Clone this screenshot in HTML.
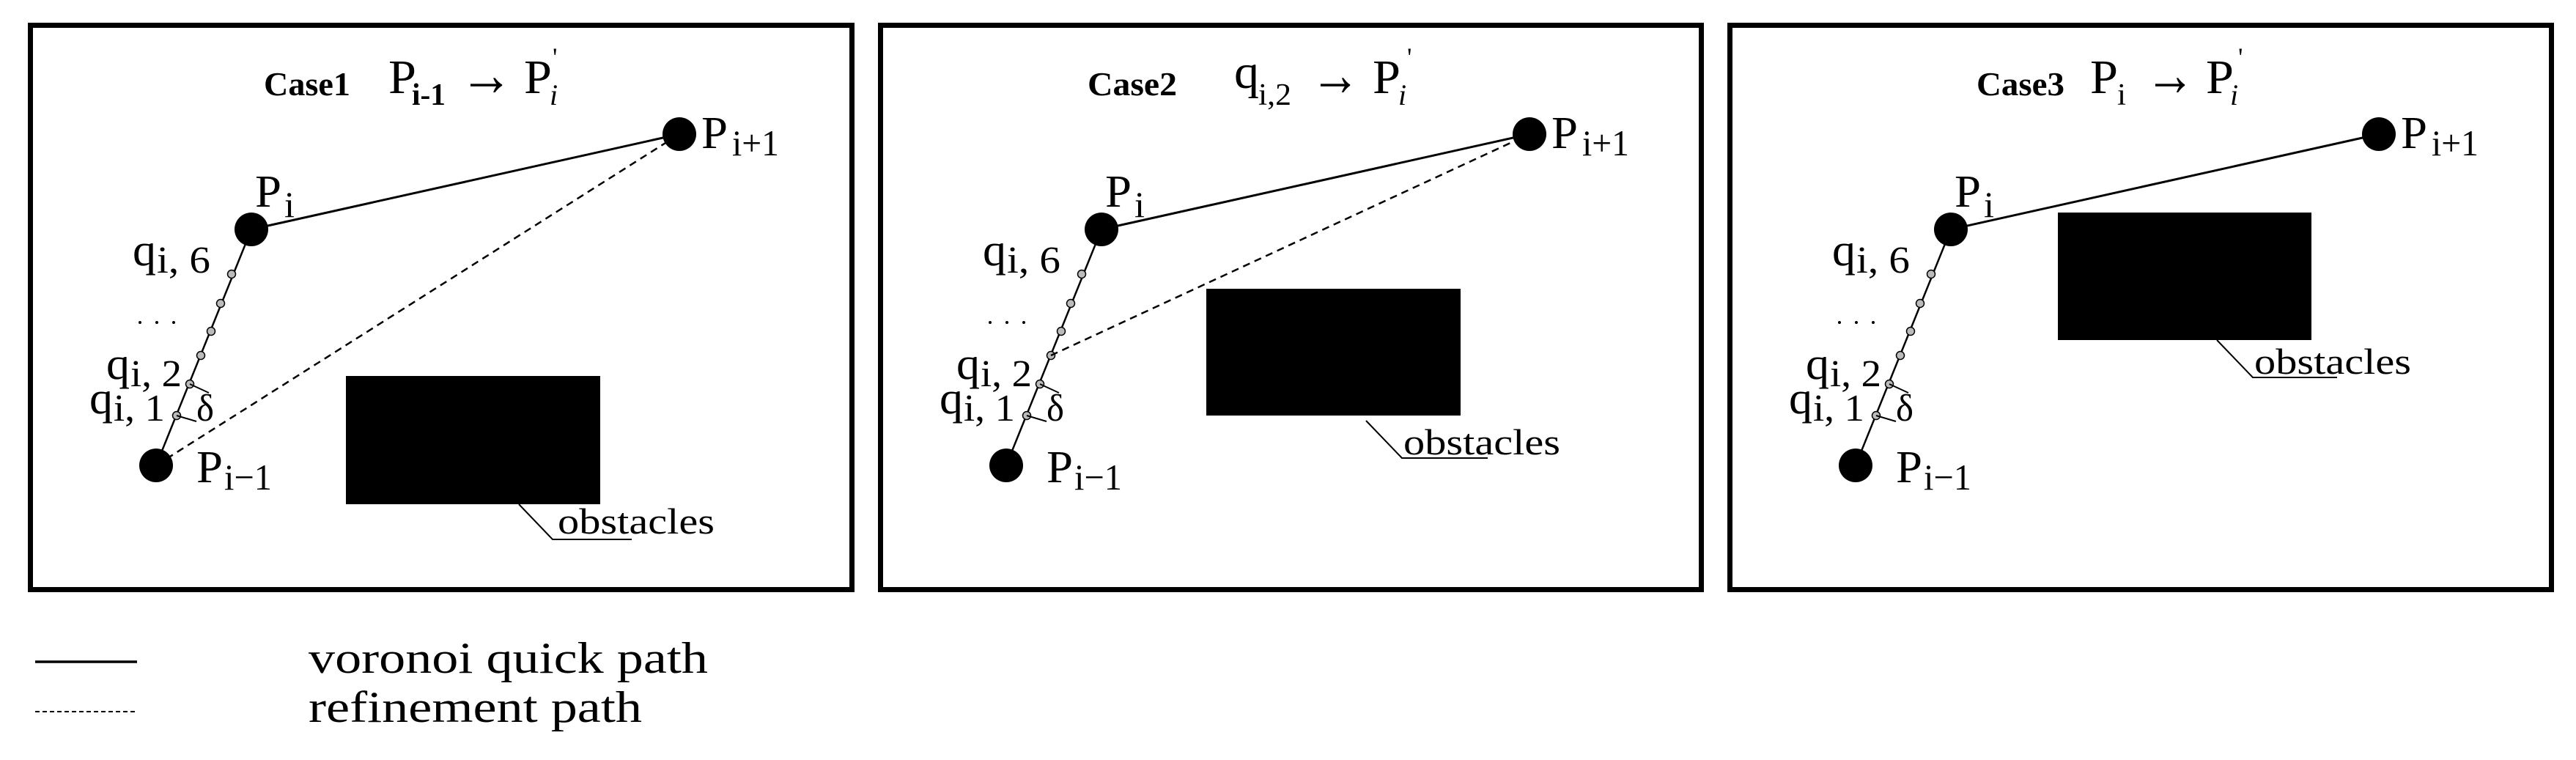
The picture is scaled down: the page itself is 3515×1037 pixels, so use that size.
<!DOCTYPE html>
<html><head><meta charset="utf-8"><style>
html,body{margin:0;padding:0;background:#fff;}
svg{display:block;}
text{font-family:"Liberation Serif",serif;fill:#000;}
</style></head><body>
<svg width="3515" height="1037" viewBox="0 0 3515 1037" xmlns="http://www.w3.org/2000/svg">
<defs>
<g id="common">
  <line x1="213" y1="635" x2="343" y2="313" stroke="#000" stroke-width="2.5"/>
  <line x1="343" y1="313" x2="927" y2="183" stroke="#000" stroke-width="3"/>
  <circle cx="343" cy="313" r="23" fill="#000"/>
  <circle cx="927" cy="183" r="23" fill="#000"/>
  <circle cx="213" cy="635" r="23" fill="#000"/>
  <g fill="#bbb" stroke="#000" stroke-width="1.5">
    <circle cx="316" cy="374" r="5.5"/><circle cx="301" cy="414" r="5.5"/>
    <circle cx="288" cy="452" r="5.5"/><circle cx="274" cy="485" r="5.5"/>
    <circle cx="259" cy="524" r="5.5"/><circle cx="241" cy="567" r="5.5"/>
  </g>
  <line x1="259" y1="524" x2="285" y2="536" stroke="#000" stroke-width="2"/>
  <line x1="241" y1="567" x2="268" y2="575" stroke="#000" stroke-width="2"/>
  <text x="348" y="282" font-size="62" textLength="36" lengthAdjust="spacingAndGlyphs">P</text>
  <text x="388" y="296" font-size="50" textLength="14" lengthAdjust="spacingAndGlyphs">i</text>
  <text x="957" y="202" font-size="62" textLength="36" lengthAdjust="spacingAndGlyphs">P</text>
  <text x="999" y="212" font-size="50" textLength="64" lengthAdjust="spacingAndGlyphs">i+1</text>
  <text x="268" y="658" font-size="62" textLength="36" lengthAdjust="spacingAndGlyphs">P</text>
  <text x="306" y="668" font-size="50" textLength="65" lengthAdjust="spacingAndGlyphs">i−1</text>
  <text x="181" y="362" font-size="62" textLength="32" lengthAdjust="spacingAndGlyphs">q</text>
  <text x="214" y="372" font-size="52" textLength="73" lengthAdjust="spacingAndGlyphs">i, 6</text>
  <circle cx="191" cy="440" r="2" fill="#000"/><circle cx="214" cy="440" r="2" fill="#000"/><circle cx="237" cy="440" r="2" fill="#000"/>
  <text x="145" y="517" font-size="62" textLength="32" lengthAdjust="spacingAndGlyphs">q</text>
  <text x="178" y="527" font-size="52" textLength="70" lengthAdjust="spacingAndGlyphs">i, 2</text>
  <text x="122" y="564" font-size="62" textLength="32" lengthAdjust="spacingAndGlyphs">q</text>
  <text x="155" y="574" font-size="52" textLength="70" lengthAdjust="spacingAndGlyphs">i, 1</text>
  <text x="268" y="574" font-size="52" textLength="24" lengthAdjust="spacingAndGlyphs">δ</text>
</g>
</defs>

<!-- Panel 1 -->
<rect x="41.5" y="34.5" width="1121" height="770" fill="none" stroke="#000" stroke-width="7"/>
<use href="#common"/>
<line x1="213" y1="635" x2="927" y2="183" stroke="#000" stroke-width="2.5" stroke-dasharray="10,7"/>
<rect x="472" y="513" width="347" height="175" fill="#000"/>
<polyline points="708,688 754,736 862,736" fill="none" stroke="#000" stroke-width="2"/>
<text x="761" y="728" font-size="50" textLength="214" lengthAdjust="spacingAndGlyphs">obstacles</text>
<text x="360" y="130" font-size="46" font-weight="bold" textLength="118" lengthAdjust="spacingAndGlyphs">Case1</text>
<text x="530" y="127" font-size="66" textLength="38" lengthAdjust="spacingAndGlyphs">P</text>
<text x="562" y="143" font-size="42" font-weight="bold" textLength="46" lengthAdjust="spacingAndGlyphs">i-1</text>
<text x="627" y="130" font-size="84" textLength="73" lengthAdjust="spacingAndGlyphs">→</text>
<text x="715" y="127" font-size="66" textLength="38" lengthAdjust="spacingAndGlyphs">P</text>
<text x="754" y="90" font-size="36">'</text>
<text x="750" y="143" font-size="40" font-style="italic">i</text>

<!-- Panel 2 -->
<g transform="translate(1160,0)">
<rect x="41.5" y="34.5" width="1120" height="770" fill="none" stroke="#000" stroke-width="7"/>
<use href="#common"/>
<line x1="274" y1="485" x2="927" y2="183" stroke="#000" stroke-width="2.5" stroke-dasharray="10,7"/>
<rect x="486" y="394" width="347" height="173" fill="#000"/>
<polyline points="704,574 753,625 870,625" fill="none" stroke="#000" stroke-width="2"/>
<text x="755" y="620" font-size="50" textLength="214" lengthAdjust="spacingAndGlyphs">obstacles</text>
<text x="324" y="130" font-size="46" font-weight="bold" textLength="122" lengthAdjust="spacingAndGlyphs">Case2</text>
<text x="524" y="120" font-size="66" textLength="34" lengthAdjust="spacingAndGlyphs">q</text>
<text x="557" y="143" font-size="42" textLength="45" lengthAdjust="spacingAndGlyphs">i,2</text>
<text x="628" y="130" font-size="84" textLength="68" lengthAdjust="spacingAndGlyphs">→</text>
<text x="713" y="127" font-size="66" textLength="38" lengthAdjust="spacingAndGlyphs">P</text>
<text x="760" y="90" font-size="36">'</text>
<text x="748" y="143" font-size="40" font-style="italic">i</text>
</g>

<!-- Panel 3 -->
<g transform="translate(2319,0)">
<rect x="41.5" y="34.5" width="1121" height="770" fill="none" stroke="#000" stroke-width="7"/>
<use href="#common"/>
<rect x="489" y="290" width="346" height="174" fill="#000"/>
<polyline points="706,464 755,515 870,515" fill="none" stroke="#000" stroke-width="2"/>
<text x="757" y="510" font-size="50" textLength="214" lengthAdjust="spacingAndGlyphs">obstacles</text>
<text x="378" y="130" font-size="46" font-weight="bold" textLength="120" lengthAdjust="spacingAndGlyphs">Case3</text>
<text x="533" y="127" font-size="66" textLength="38" lengthAdjust="spacingAndGlyphs">P</text>
<text x="570" y="143" font-size="42" textLength="12" lengthAdjust="spacingAndGlyphs">i</text>
<text x="608" y="130" font-size="84" textLength="68" lengthAdjust="spacingAndGlyphs">→</text>
<text x="691" y="127" font-size="66" textLength="38" lengthAdjust="spacingAndGlyphs">P</text>
<text x="735" y="90" font-size="36">'</text>
<text x="724" y="143" font-size="40" font-style="italic">i</text>
</g>

<!-- Legend -->
<line x1="48" y1="903" x2="187" y2="903" stroke="#000" stroke-width="3.5"/>
<line x1="48" y1="971" x2="184" y2="971" stroke="#000" stroke-width="2" stroke-dasharray="6,4"/>
<text x="421" y="918" font-size="60" textLength="545" lengthAdjust="spacingAndGlyphs">voronoi quick path</text>
<text x="421" y="985" font-size="60" textLength="455" lengthAdjust="spacingAndGlyphs">refinement path</text>
</svg>
</body></html>
